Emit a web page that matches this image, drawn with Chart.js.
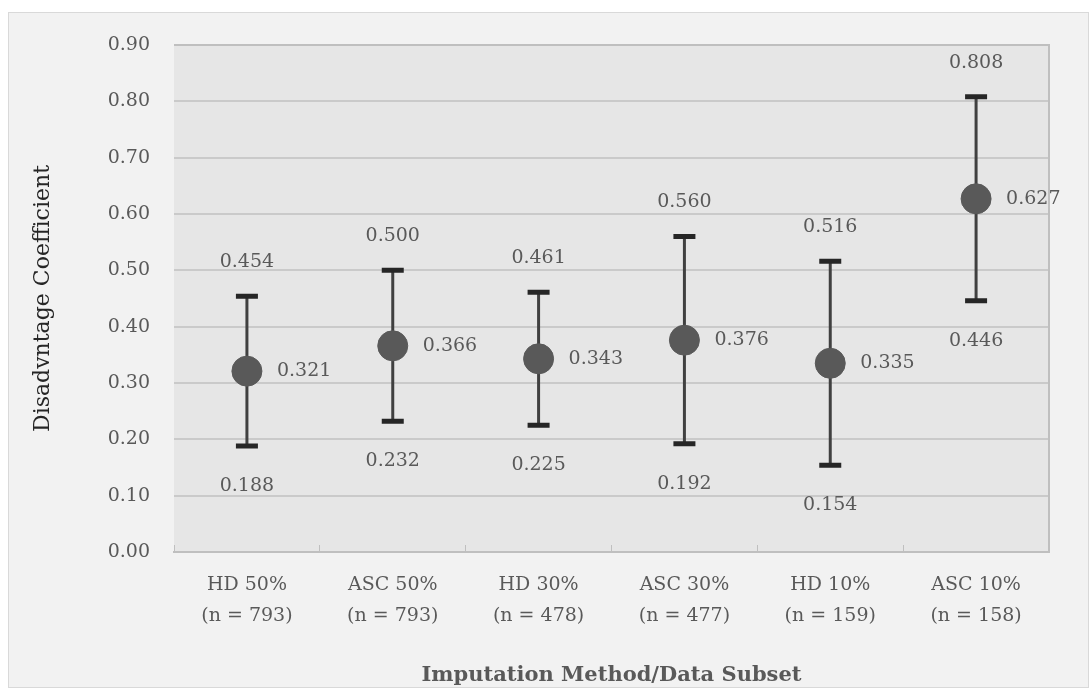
<!DOCTYPE html>
<html>
<head>
<meta charset="utf-8">
<script src="https://cdn.jsdelivr.net/npm/chart.js@4"></script>
<style>
  body { margin: 0; background: #ffffff; }
  #box { position: absolute; left: 8px; top: 12px; width: 1081px; height: 676px; background: #f2f2f2; border: 1px solid #d9d9d9; box-sizing: border-box; }
  #wrap { position: absolute; left: 0; top: 0; width: 1089px; height: 688px; }
</style>
</head>
<body>
<div id="box"></div>
<div id="wrap"><canvas id="chart"></canvas></div>
<script>
// data
const categories = [
    ['HD 50%', '(n = 793)'], ['ASC 50%', '(n = 793)'], ['HD 30%', '(n = 478)'],
    ['ASC 30%', '(n = 477)'], ['HD 10%', '(n = 159)'], ['ASC 10%', '(n = 158)']
];
const meanValues = [0.321, 0.366, 0.343, 0.376, 0.335, 0.627];
const upperValues = [0.454, 0.500, 0.461, 0.560, 0.516, 0.808];
const lowerValues = [0.188, 0.232, 0.225, 0.192, 0.154, 0.446];

const FONT = 'DejaVu Serif';
const TEXT = '#595959';

// plot area fill + border
const plotBg = {
    id: 'plotBg',
    beforeDraw(chart) {
        const { ctx, chartArea: a } = chart;
        ctx.save();
        ctx.fillStyle = '#e6e6e6';
        ctx.fillRect(a.left, a.top, a.right - a.left, a.bottom - a.top);
        ctx.restore();
    },
    afterDatasetsDraw(chart) {
        const { ctx, chartArea: a } = chart;
        ctx.save();
        ctx.strokeStyle = '#bfbfbf';
        ctx.lineWidth = 2;
        ctx.beginPath();
        ctx.moveTo(a.left, a.top); ctx.lineTo(a.right, a.top); ctx.lineTo(a.right, a.bottom);
        ctx.stroke();
        ctx.restore();
    }
};

// error bars, drawn before the points
const errorBars = {
    id: 'errorBars',
    beforeDatasetsDraw(chart) {
        const { ctx, scales: { x, y } } = chart;
        ctx.save();
        meanValues.forEach((m, i) => {
            const px = x.getPixelForValue(i);
            const yt = y.getPixelForValue(upperValues[i]);
            const yb = y.getPixelForValue(lowerValues[i]);
            ctx.strokeStyle = '#404040';
            ctx.lineWidth = 3;
            ctx.beginPath();
            ctx.moveTo(px, yt); ctx.lineTo(px, yb);
            ctx.stroke();
            ctx.strokeStyle = '#262626';
            ctx.lineWidth = 5;
            ctx.beginPath();
            ctx.moveTo(px - 11, yt); ctx.lineTo(px + 11, yt);
            ctx.moveTo(px - 11, yb); ctx.lineTo(px + 11, yb);
            ctx.stroke();
        });
        ctx.restore();
    },
    afterDatasetsDraw(chart) {
        const { ctx, scales: { x, y } } = chart;
        ctx.save();
        ctx.font = '19px "' + FONT + '"';
        ctx.fillStyle = TEXT;
        ctx.textBaseline = 'middle';
        meanValues.forEach((m, i) => {
            const px = x.getPixelForValue(i);
            ctx.textAlign = 'left';
            ctx.fillText(m.toFixed(3), px + 30, y.getPixelForValue(m));
            ctx.textAlign = 'center';
            ctx.fillText(upperValues[i].toFixed(3), px, y.getPixelForValue(upperValues[i]) - 34);
            ctx.fillText(lowerValues[i].toFixed(3), px, y.getPixelForValue(lowerValues[i]) + 40);
        });
        ctx.restore();
    }
};

new Chart(document.getElementById('chart'), {
    type: 'line',
    data: {
        labels: categories,
        datasets: [{
            data: meanValues,
            showLine: false,
            pointRadius: 15,
            pointHoverRadius: 15,
            pointBackgroundColor: '#595959',
            pointBorderColor: '#595959'
        }]
    },
    options: {
        responsive: true,
        maintainAspectRatio: false,
        animation: false,
        layout: { padding: { top: 45, right: 40, bottom: 0, left: 0 } },
        plugins: { legend: { display: false }, tooltip: { enabled: false } },
        scales: {
            x: {
                offset: true,
                afterFit(s) { s.height = 136; },
                grid: { display: true, offset: true, drawOnChartArea: false, tickLength: -7, color: '#bfbfbf', lineWidth: 1 },
                border: { color: '#bfbfbf', width: 2 },
                ticks: { color: TEXT, font: { family: FONT, size: 19, lineHeight: 1.6 }, padding: 25, maxRotation: 0 },
                title: { display: true, text: 'Imputation Method/Data Subset', color: TEXT, font: { family: FONT, size: 21, weight: 'bold' }, padding: { bottom: 0 } }
            },
            y: {
                min: 0,
                max: 0.9,
                afterFit(s) { s.width = 174; },
                grid: { color: '#cacaca', lineWidth: 2, drawTicks: false },
                border: { display: false },
                ticks: { stepSize: 0.1, color: TEXT, font: { family: FONT, size: 19 }, padding: 24, callback: v => v.toFixed(2) },
                title: { display: true, text: 'Disadvntage Coefficient', color: '#262626', font: { family: FONT, size: 22 }, padding: { top: 30 } }
            }
        }
    },
    plugins: [plotBg, errorBars]
});
</script>
</body>
</html>
